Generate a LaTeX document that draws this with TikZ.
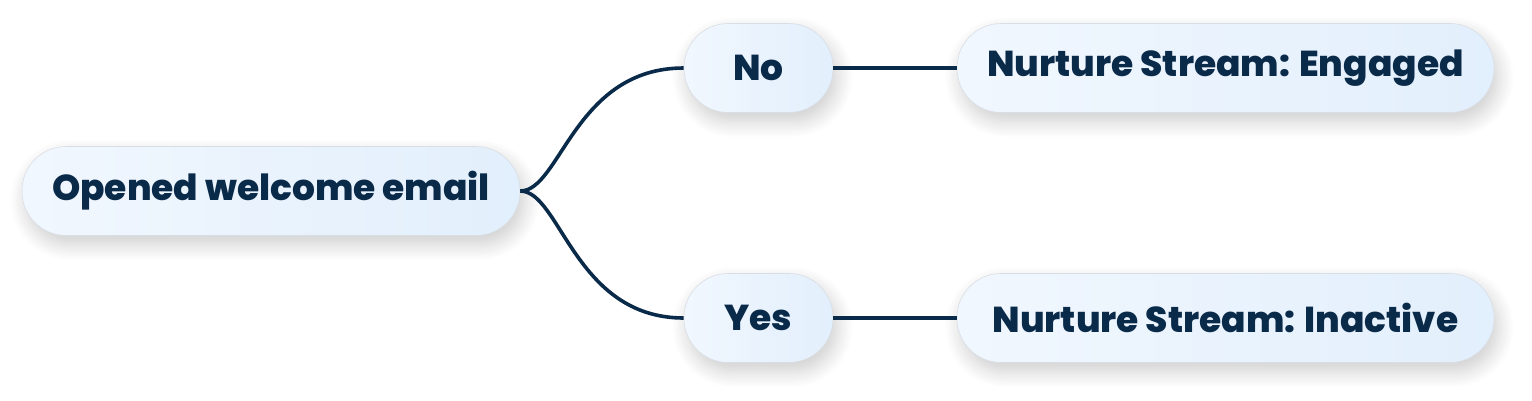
\documentclass[tikz,border=0pt]{standalone}
\usepackage{fontspec}
\setmainfont{Poppins}[BoldFont={Poppins ExtraBold}]
\usepackage{tikz}
\usetikzlibrary{positioning,shadows.blur}
\definecolor{ink}{HTML}{0A2A4A}
\definecolor{paleL}{HTML}{F1F7FE}
\definecolor{paleR}{HTML}{E2EFFC}
\definecolor{edgegrey}{HTML}{D9DEE4}

\begin{document}
\begin{tikzpicture}[x=1pt,y=-1pt,
  pill/.style={draw=edgegrey,line width=0.6pt,left color=paleL,right color=paleR,rounded corners=44pt,
    font=\fontsize{36}{44}\selectfont\bfseries,text=ink,minimum height=89pt,
    blur shadow={shadow xshift=4pt,shadow yshift=-9pt,shadow blur steps=14,shadow blur radius=16pt,shadow opacity=20}},
  lk/.style={draw=ink,line width=3.6pt}]
  \useasboundingbox (0,0) rectangle (1532,400);
  \node[pill,minimum width=498pt] (open) at (271,191) {Opened welcome email};
  \node[pill,minimum width=149pt] (no) at (758.5,68) {No};
  \node[pill,minimum width=149pt] (yes) at (758.5,318) {Yes};
  \node[pill,minimum width=537pt] (eng) at (1225.5,68) {Nurture Stream: Engaged};
  \node[pill,minimum width=537pt] (inact) at (1225.5,318) {Nurture Stream: Inactive};
  \draw[lk] (open.east) .. controls +(40,0) and +(-109,0) .. (no.west);
  \draw[lk] (open.east) .. controls +(40,0) and +(-109,0) .. (yes.west);
  \foreach \a/\b in {no/eng,yes/inact} \draw[lk] (\a.east) -- (\b.west);
\end{tikzpicture}
\end{document}
